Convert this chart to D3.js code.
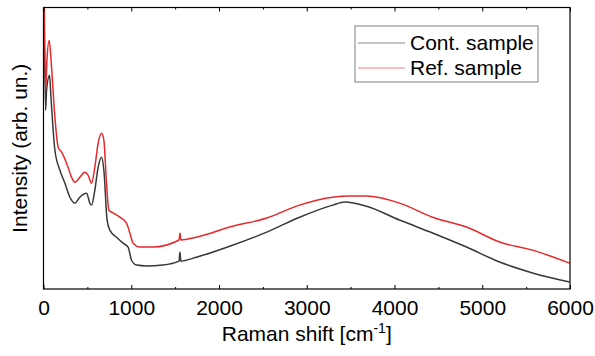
<!DOCTYPE html>
<html>
<head>
<meta charset="utf-8">
<script src="https://cdn.jsdelivr.net/npm/d3@7"></script>
<style>
  body { margin: 0; background: #fff; }
  text { font-family: "Liberation Sans", Arial, sans-serif; }
</style>
</head>
<body>
<div id="chart"></div>
<script>
// Raman spectra (intensity in arbitrary units)
const contShift = [8, 24, 35, 69, 84, 110, 130, 187, 244, 301, 358, 414, 491, 528, 548, 585, 623, 662, 688, 725, 756, 832, 907, 964, 1003, 1060, 1174, 1359, 1545, 1555, 1565, 1743, 2122, 2544, 2919, 3295, 3432, 3682, 4058, 4434, 4821, 5197, 5573, 5994];
const contInt = [95, 63.5, 70.6, 75.9, 68.8, 56.4, 49.3, 42.2, 37.6, 32.6, 30.5, 32.6, 34.0, 30.5, 29.8, 35.1, 43.3, 46.8, 42.2, 24.5, 20.9, 18.4, 16.3, 14.9, 10.3, 8.5, 8.2, 8.5, 9.9, 13.1, 9.9, 11.3, 15.2, 20.2, 25.5, 29.8, 30.9, 29.4, 24.5, 19.9, 14.9, 9.6, 5.7, 2.5];

const refShift = [8, 24, 39, 65, 92, 130, 167, 206, 263, 320, 358, 414, 471, 509, 548, 585, 623, 662, 688, 718, 745, 794, 870, 946, 984, 1021, 1098, 1246, 1545, 1555, 1565, 1743, 2122, 2544, 2919, 3295, 3489, 3682, 4058, 4434, 4821, 5197, 5573, 5994];
const refInt = [104, 70.6, 81.2, 88.3, 78.7, 61.0, 50.4, 48.6, 44.7, 39.7, 37.9, 39.7, 41.5, 40.4, 37.6, 43.3, 51.8, 55.3, 52.8, 37.6, 28.0, 27.0, 25.5, 23.4, 19.9, 16.3, 14.9, 14.9, 17.4, 19.9, 17.4, 18.4, 22.0, 25.2, 29.8, 32.6, 33.0, 33.0, 30.5, 25.5, 22.0, 16.7, 13.8, 9.2];

const xTicks = [0, 1000, 2000, 3000, 4000, 5000, 6000];
const xMinorTicks = [500, 1500, 2500, 3500, 4500, 5500];
const seriesNames = ['Cont. sample', 'Ref. sample'];
const seriesColors = ['#383838', '#e8282b'];

const width = 595, height = 356;
const plotL = 43.5, plotR = 570, plotT = 7.5, plotB = 289;
const fontSize = 21;

const svg = d3.select('#chart').append('svg')
  .attr('width', width)
  .attr('height', height);

const x = d3.scaleLinear().domain([0, 6000]).range([plotL, plotR]);
const y = d3.scaleLinear().domain([0, 100]).range([plotB, plotT]);

svg.append('clipPath').attr('id', 'plot-clip')
  .append('rect')
  .attr('x', plotL).attr('y', plotT)
  .attr('width', plotR - plotL).attr('height', plotB - plotT);

const line = d3.line()
  .x(d => x(d[0]))
  .y(d => y(d[1]))
  .curve(d3.curveMonotoneX);

const series = [
  d3.zip(contShift, contInt),
  d3.zip(refShift, refInt)
];

const plot = svg.append('g').attr('clip-path', 'url(#plot-clip)');
series.forEach((s, i) => {
  plot.append('path')
    .datum(s)
    .attr('fill', 'none')
    .attr('stroke', seriesColors[i])
    .attr('stroke-width', 1.5)
    .attr('stroke-linejoin', 'round')
    .attr('d', line);
});

// bottom axis, ticks pointing inward
svg.append('g')
  .attr('transform', `translate(0,${plotB})`)
  .call(d3.axisBottom(x).tickValues(xTicks).tickSize(-4).tickPadding(11).tickFormat(d3.format('d')))
  .call(g => g.select('.domain').remove())
  .call(g => g.selectAll('text').attr('font-size', fontSize).attr('fill', '#000').attr('font-family', '"Liberation Sans", Arial, sans-serif'));

svg.append('g')
  .attr('transform', `translate(0,${plotB})`)
  .call(d3.axisBottom(x).tickValues(xMinorTicks).tickSize(-2).tickFormat(''))
  .call(g => g.select('.domain').remove());

// top axis, ticks pointing down into the plot
svg.append('g')
  .attr('transform', `translate(0,${plotT})`)
  .call(d3.axisTop(x).tickValues(xTicks).tickSize(-4).tickFormat(''))
  .call(g => g.select('.domain').remove());

svg.append('g')
  .attr('transform', `translate(0,${plotT})`)
  .call(d3.axisTop(x).tickValues(xMinorTicks).tickSize(-2).tickFormat(''))
  .call(g => g.select('.domain').remove());

// frame
svg.append('rect')
  .attr('x', plotL).attr('y', plotT)
  .attr('width', plotR - plotL).attr('height', plotB - plotT)
  .attr('fill', 'none')
  .attr('stroke', '#000')
  .attr('stroke-width', 1.2);

// axis titles
const xTitle = svg.append('text')
  .attr('x', (plotL + plotR) / 2)
  .attr('y', 341)
  .attr('text-anchor', 'middle')
  .attr('font-size', fontSize)
  .attr('fill', '#000');
xTitle.append('tspan').text('Raman shift [cm');
xTitle.append('tspan').attr('font-size', 14).attr('dy', -8).text('-1');
xTitle.append('tspan').attr('dy', 8).text(']');

svg.append('text')
  .attr('transform', `translate(27,${(plotT + plotB) / 2}) rotate(-90)`)
  .attr('text-anchor', 'middle')
  .attr('font-size', fontSize)
  .attr('fill', '#000')
  .text('Intensity (arb. un.)');

// legend
const legend = svg.append('g');
legend.append('rect')
  .attr('x', 355).attr('y', 26)
  .attr('width', 183).attr('height', 56)
  .attr('fill', '#fff')
  .attr('stroke', '#808080')
  .attr('stroke-width', 1);

seriesNames.forEach((name, i) => {
  const ly = 43 + i * 25;
  legend.append('line')
    .attr('x1', 358).attr('x2', 405)
    .attr('y1', ly).attr('y2', ly)
    .attr('stroke', seriesColors[i])
    .attr('stroke-opacity', 0.6)
    .attr('stroke-width', 1);
  legend.append('text')
    .attr('x', 410).attr('y', ly + 7)
    .attr('font-size', fontSize)
    .attr('fill', '#000')
    .text(name);
});
</script>
</body>
</html>
